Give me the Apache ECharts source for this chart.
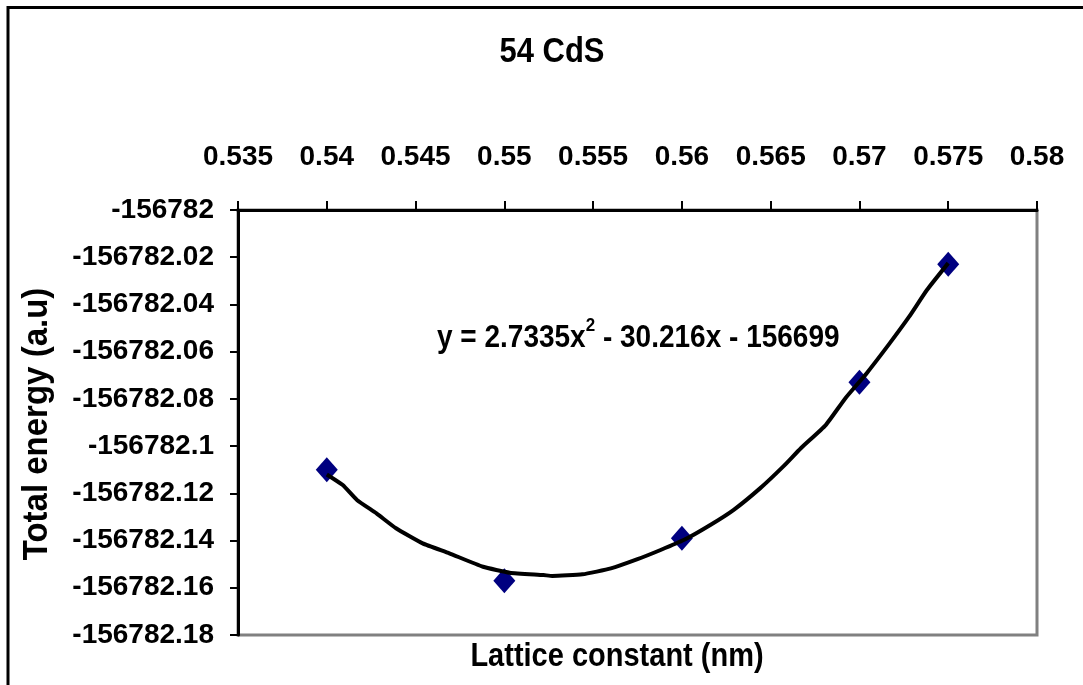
<!DOCTYPE html>
<html>
<head>
<meta charset="utf-8">
<script src="https://cdn.jsdelivr.net/npm/echarts@6/dist/echarts.min.js"></script>
<style>
  html, body { margin: 0; padding: 0; background: #ffffff; }
  #chart { width: 1083px; height: 685px; }
</style>
</head>
<body>
<div id="chart"></div>
<script>
// ---- Data ----
const chartTitle = '54 CdS';
const xAxisTitle = 'Lattice constant (nm)';
const yAxisTitle = 'Total energy (a.u)';

// Measured points (diamonds)
const latticeConstant = [0.54, 0.55, 0.56, 0.57, 0.575];
const totalEnergy = [-156782.110, -156782.157, -156782.139, -156782.073, -156782.023];

// Polynomial trendline
const trendLattice = [0.5400, 0.5409, 0.5417, 0.5428, 0.5439, 0.5454, 0.5469, 0.5488, 0.5503, 0.5522,
  0.5527, 0.5544, 0.5560, 0.5575, 0.5588, 0.5601, 0.5616, 0.5629, 0.5644, 0.5657,
  0.5667, 0.5681, 0.5692, 0.5704, 0.5717, 0.5728, 0.5738, 0.5750];
const trendEnergy = [-156782.112, -156782.1165, -156782.1228, -156782.1285, -156782.1348, -156782.1412, -156782.1454, -156782.1511, -156782.1536, -156782.1546,
  -156782.1550, -156782.1543, -156782.1518, -156782.1479, -156782.1440, -156782.1398, -156782.1334, -156782.1271, -156782.1179, -156782.1087,
  -156782.1009, -156782.0911, -156782.0798, -156782.0692, -156782.0565, -156782.0452, -156782.0339, -156782.0225];

// Axis ticks
const xMin = 0.535, xMax = 0.58, xStep = 0.005;
const yMin = -156782.18, yMax = -156782, yStep = 0.02;

// Trendline equation label
const eqMain = 'y = 2.7335x';
const eqSup = '2';
const eqRest = ' - 30.216x - 156699';

const FONT = '"Liberation Sans", Arial, Helvetica, sans-serif';

const chart = echarts.init(document.getElementById('chart'), null, { renderer: 'canvas' });

const option = {
  backgroundColor: '#ffffff',
  animation: false,
  grid: {
    left: 238, top: 210, right: 46, bottom: 50,
    show: true, borderColor: '#808080', borderWidth: 3, backgroundColor: 'transparent'
  },
  xAxis: {
    type: 'value', position: 'top',
    min: xMin, max: xMax, interval: xStep,
    axisLine: { show: true, onZero: false, lineStyle: { color: '#000', width: 3 } },
    axisTick: { show: true, inside: false, length: 9, lineStyle: { color: '#000', width: 2 } },
    splitLine: { show: false },
    axisLabel: {
      margin: 39, color: '#000', fontFamily: FONT, fontWeight: 'bold', fontSize: 28,
      formatter: v => String(parseFloat(v.toFixed(3)))
    }
  },
  yAxis: {
    type: 'value',
    min: yMin, max: yMax, interval: yStep,
    axisLine: { show: true, onZero: false, lineStyle: { color: '#000', width: 3 } },
    axisTick: { show: true, inside: false, length: 8, lineStyle: { color: '#000', width: 2 } },
    splitLine: { show: false },
    axisLabel: {
      margin: 24, color: '#000', fontFamily: FONT, fontWeight: 'bold', fontSize: 28,
      formatter: v => String(parseFloat(v.toFixed(2)))
    }
  },
  series: [
    {
      type: 'scatter',
      data: latticeConstant.map((x, i) => [x, totalEnergy[i]]),
      symbol: 'diamond',
      symbolSize: [22, 25],
      itemStyle: { color: '#000080', opacity: 1 },
      z: 2
    },
    {
      type: 'line',
      data: trendLattice.map((x, i) => [x, trendEnergy[i]]),
      showSymbol: false,
      smooth: 0.15,
      lineStyle: { color: '#000', width: 4 },
      z: 3
    }
  ],
  graphic: [
    {
      type: 'rect', silent: true,
      shape: { x: 8, y: 7.5, width: 1200, height: 800 },
      style: { fill: 'none', stroke: '#000', lineWidth: 3 }
    },
    {
      type: 'text', silent: true, x: 552, y: 52, scaleY: 1.12,
      style: { text: chartTitle, fill: '#000', font: 'bold 31px ' + FONT, align: 'center', verticalAlign: 'middle' }
    },
    {
      type: 'text', silent: true, x: 617, y: 657, scaleY: 1.12,
      style: { text: xAxisTitle, fill: '#000', font: 'bold 29px ' + FONT, align: 'center', verticalAlign: 'middle' }
    },
    {
      type: 'text', silent: true, x: 37, y: 424, rotation: Math.PI / 2, scaleY: 1.05,
      style: { text: yAxisTitle, fill: '#000', font: 'bold 33px ' + FONT, align: 'center', verticalAlign: 'middle' }
    },
    {
      type: 'text', silent: true, x: 437, y: 335, scaleY: 1.12,
      style: {
        text: '{b|' + eqMain + '}{s|' + eqSup + '}{b|' + eqRest + '}',
        align: 'left', verticalAlign: 'middle',
        rich: {
          b: { fontFamily: FONT, fontWeight: 'bold', fontSize: 28, lineHeight: 34, fill: '#000', verticalAlign: 'bottom' },
          s: { fontFamily: FONT, fontWeight: 'bold', fontSize: 17, lineHeight: 20, fill: '#000', verticalAlign: 'top' }
        }
      }
    }
  ]
};

chart.setOption(option);
</script>
</body>
</html>
